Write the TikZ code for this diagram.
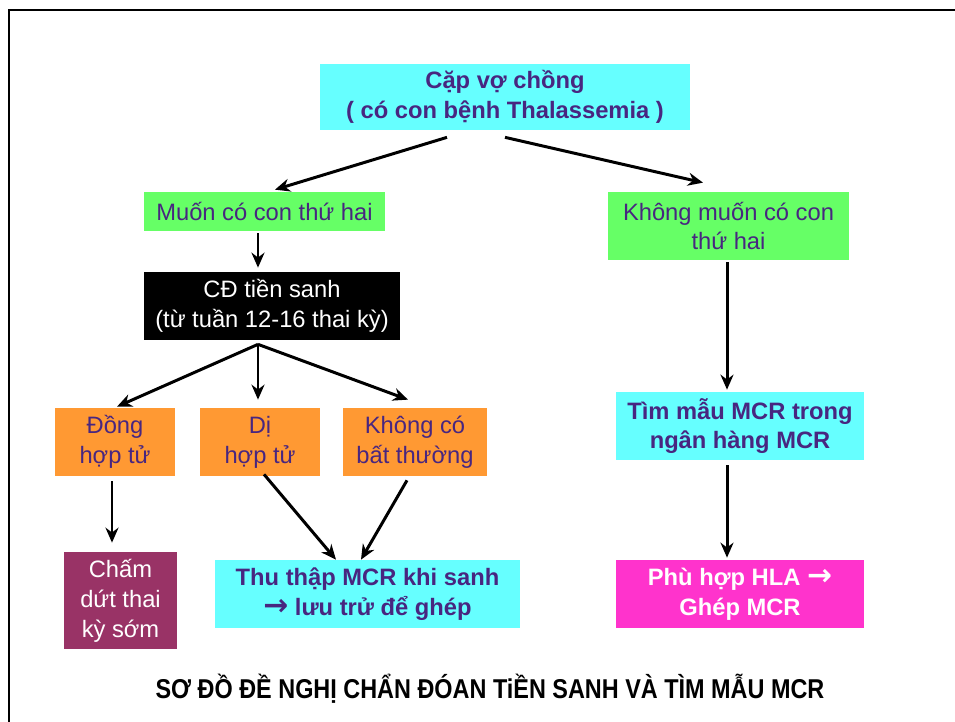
\documentclass[tikz,border=0pt]{standalone}
\usepackage{fontspec}
\setmainfont{Liberation Sans}
\newfontfamily\arrowfont{DejaVu Sans}
\newfontfamily\narrowfont[FakeStretch=0.86]{Liberation Sans}
\usepackage{tikz}
\usetikzlibrary{arrows.meta,calc,positioning}
\definecolor{txtpurple}{RGB}{72,38,128}
\definecolor{boxcyan}{RGB}{102,255,255}
\definecolor{boxgreen}{RGB}{102,255,102}
\definecolor{boxorange}{RGB}{255,153,51}
\definecolor{boxmaroon}{RGB}{153,51,102}
\definecolor{boxpink}{RGB}{255,51,204}
\newcommand{\rarr}{{\arrowfont\bfseries\fontsize{17}{17}\selectfont →}}

\begin{document}
\begin{tikzpicture}[x=0.02cm, y=-0.02cm,
        box/.style={inner sep=0pt, align=center, font=\fontsize{13.5}{17}\selectfont},
        arr/.style={-{Stealth[length=3mm, width=2.6mm]}, line width=1.7pt}]
        \useasboundingbox (0,0) rectangle (955,722);
        % frame
        \draw[line width=1.5pt] (9,722) -- (9,10) -- (955,10);

        % top level
        \node[box, fill=boxcyan, text=txtpurple, font=\fontsize{13.5}{17}\selectfont\bfseries,
            minimum width=7.4cm, minimum height=1.32cm] (couple) at (505,97)
            {Cặp vợ chồng\\( có con bệnh Thalassemia )};
        \node[box, fill=boxgreen, text=txtpurple, minimum width=4.82cm, minimum height=0.78cm]
            (want) at (264.5,211.5) {Muốn có con thứ hai};
        \node[box, fill=boxgreen, text=txtpurple, minimum width=4.82cm, minimum height=1.36cm]
            (nowant) at (728.5,226) {Không muốn có con\\thứ hai};

        % prenatal branch
        \node[box, fill=black, text=white, minimum width=5.12cm, minimum height=1.36cm]
            (diag) at (272,306) {CĐ tiền sanh\\(từ tuần 12-16 thai kỳ)};
        \node[box, fill=boxorange, text=txtpurple, minimum width=2.4cm, minimum height=1.36cm]
            (homo) at (115,442) {Đồng\\hợp tử};
        \node[box, fill=boxorange, text=txtpurple, minimum width=2.4cm, minimum height=1.36cm]
            (hetero) at (260,442) {Dị\\hợp tử};
        \node[box, fill=boxorange, text=txtpurple, minimum width=2.88cm, minimum height=1.36cm]
            (normal) at (415,442) {Không có\\bất thường};
        \node[box, fill=boxmaroon, text=white, minimum width=2.26cm, minimum height=1.94cm]
            (stop) at (120.5,600.5) {Chấm\\dứt thai\\kỳ sớm};
        \node[box, fill=boxcyan, text=txtpurple, font=\fontsize{13.5}{17}\selectfont\bfseries,
            minimum width=6.1cm, minimum height=1.36cm] (collect) at (367.5,594)
            {Thu thập MCR khi sanh\\\rarr{} lưu trử để ghép};

        % bank branch
        \node[box, fill=boxcyan, text=txtpurple, font=\fontsize{13.5}{17}\selectfont\bfseries,
            minimum width=4.96cm, minimum height=1.36cm] (search) at (740,426)
            {Tìm mẫu MCR trong\\ngân hàng MCR};
        \node[box, fill=boxpink, text=white, font=\fontsize{13.5}{17}\selectfont\bfseries,
            minimum width=4.96cm, minimum height=1.36cm] (match) at (740,594)
            {Phù hợp HLA \rarr\\Ghép MCR};

        \node[font=\narrowfont\fontsize{15.5}{18}\selectfont\bfseries] (caption) at (490,689)
            {SƠ ĐỒ ĐỀ NGHỊ CHẨN ĐÓAN TiỀN SANH VÀ TÌM MẪU MCR};

        % arrows
        \draw[arr] ($(couple.south)+(-58,7)$) -- ($(want.north)+(10.5,-2)$);
        \draw[arr] ($(couple.south)+(0,7)$) -- ($(nowant.north)+(-25.5,-9)$);
        \draw[arr] ($(want.south)+(-6.5,2)$) -- ($(diag.north)+(-14,-4)$);
        \draw[arr] ($(diag.south)+(-14,4)$) -- ($(homo.north)+(2,-1)$);
        \draw[arr] ($(diag.south)+(-14,4)$) -- ($(hetero.north)+(-2,-8)$);
        \draw[arr] ($(diag.south)+(-14,4)$) -- ($(normal.north)+(-7,-8)$);
        \draw[arr] ($(homo.south)+(-3,5)$) -- ($(stop.north)+(-8.5,-9)$);
        \draw[arr] ($(hetero.south)+(4,-2)$) -- ($(collect.north)+(-31.5,0)$);
        \draw[arr] ($(normal.south)+(-8,4)$) -- ($(collect.north)+(-6.5,0)$);
        \draw[arr] ($(nowant.south)+(-1.5,2)$) -- ($(search.north)+(-13,-2)$);
        \draw[arr] ($(search.south)+(-13,5)$) -- ($(match.north)+(-13,-2)$);
\end{tikzpicture}
\end{document}
